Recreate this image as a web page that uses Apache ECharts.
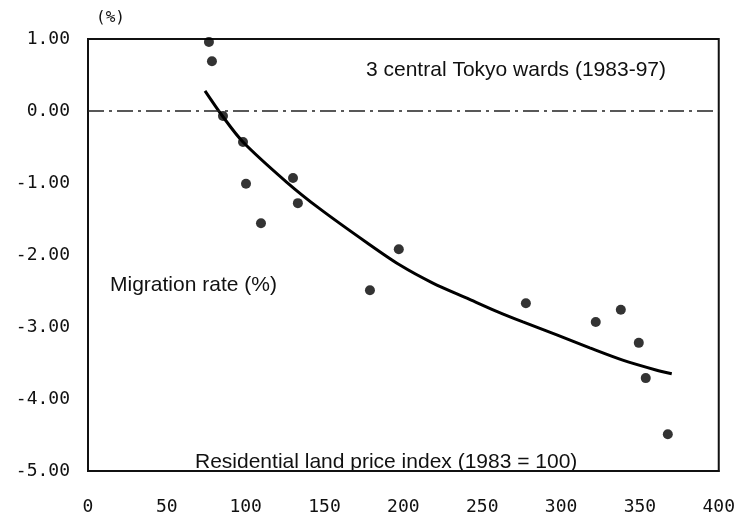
<!DOCTYPE html>
<html>
<head>
<meta charset="utf-8">
<script src="https://cdn.jsdelivr.net/npm/echarts@6/dist/echarts.min.js"></script>
<style>html,body{margin:0;padding:0;background:#fff;}#c{width:738px;height:517px;}</style>
</head>
<body>
<div id="c"></div>
<script>
// Observed points: residential land price index (1983 = 100) vs migration rate (%)
const priceIndex = [76.7, 78.6, 85.6, 98.3, 100.2, 109.7, 130.0, 133.1, 197.1, 178.8, 277.7, 322.0, 337.9, 349.3, 353.7, 367.7];
const migrationRate = [0.96, 0.69, -0.07, -0.43, -1.01, -1.56, -0.93, -1.28, -1.92, -2.49, -2.67, -2.93, -2.76, -3.22, -3.71, -4.49];

// Fitted curve
const fitX = [74.2, 85.6, 98.3, 126.1, 147.1, 176.9, 197.8, 218.7, 240.3, 259.9, 275.8, 297.3, 318.2, 339.1, 360.7, 370.2];
const fitY = [0.28, -0.08, -0.43, -0.99, -1.36, -1.83, -2.14, -2.39, -2.60, -2.79, -2.93, -3.11, -3.29, -3.46, -3.60, -3.65];

// Zero reference line value
const zeroLineValue = 0;

const xTicks = [0, 50, 100, 150, 200, 250, 300, 350, 400];
const yTickLabels = ['-5.00', '-4.00', '-3.00', '-2.00', '-1.00', '0.00', '1.00'];
const yTickValues = [-5, -4, -3, -2, -1, 0, 1];

const chart = echarts.init(document.getElementById('c'));
const labelFont = {fontFamily: 'DejaVu Sans Mono', fontSize: 18, color: '#111'};

chart.setOption({
  animation: false,
  backgroundColor: '#fff',
  grid: {left: 88, right: 19, top: 39, bottom: 46, show: true, borderColor: '#111', borderWidth: 2},
  xAxis: {
    type: 'value', min: xTicks[0], max: xTicks[xTicks.length - 1], interval: 50,
    axisLine: {show: true, onZero: false, lineStyle: {color: '#111', width: 2}},
    axisTick: {show: false},
    splitLine: {show: false},
    axisLabel: Object.assign({margin: 27, formatter: v => String(v)}, labelFont)
  },
  yAxis: {
    type: 'value', min: yTickValues[0], max: yTickValues[yTickValues.length - 1], interval: 1,
    axisLine: {show: true, onZero: false, lineStyle: {color: '#111', width: 2}},
    axisTick: {show: false},
    splitLine: {show: false},
    axisLabel: Object.assign({margin: 18, formatter: v => yTickLabels[yTickValues.indexOf(v)]}, labelFont)
  },
  series: [
    {
      type: 'line',
      data: fitX.map((x, i) => [x, fitY[i]]),
      smooth: 0.3,
      showSymbol: false,
      lineStyle: {color: '#000', width: 3},
      markLine: {
        silent: true,
        symbol: 'none',
        label: {show: false},
        lineStyle: {color: '#222', width: 1.5, type: [16, 5, 3, 5]},
        data: [{yAxis: zeroLineValue}]
      },
      z: 3
    },
    {
      type: 'scatter',
      data: priceIndex.map((x, i) => [x, migrationRate[i]]),
      symbol: 'circle',
      symbolSize: 10,
      itemStyle: {color: '#000'},
      z: 4
    }
  ],
  graphic: [
    {type: 'text', left: 96, top: 10, style: {text: '(%)', fontFamily: 'DejaVu Sans Mono', fontSize: 16, fill: '#111'}},
    {type: 'text', x: 366, y: 70, style: {text: '3 central Tokyo wards (1983-97)', fontFamily: 'Liberation Sans', fontSize: 21, fill: '#111', textVerticalAlign: 'middle'}},
    {type: 'text', x: 110, y: 285, style: {text: 'Migration rate (%)', fontFamily: 'Liberation Sans', fontSize: 21, fill: '#111', textVerticalAlign: 'middle'}},
    {type: 'text', x: 195, y: 462, style: {text: 'Residential land price index (1983 = 100)', fontFamily: 'Liberation Sans', fontSize: 21, fill: '#111', textVerticalAlign: 'middle'}}
  ]
});
</script>
</body>
</html>
